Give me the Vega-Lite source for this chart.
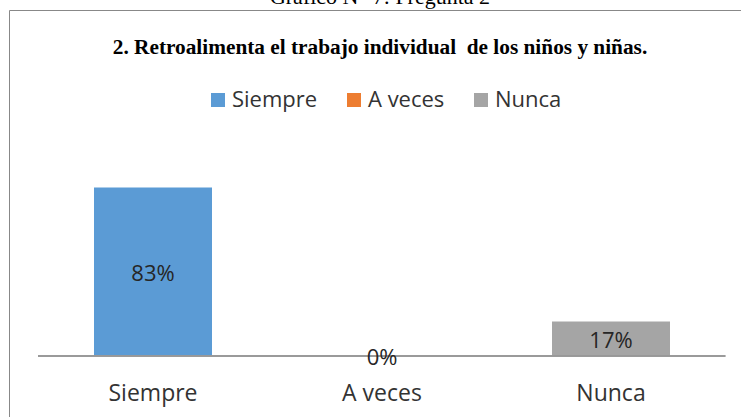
{
  "$schema": "https://vega.github.io/schema/vega-lite/v6.json",
  "width": 738,
  "height": 413,
  "autosize": {"type": "none"},
  "padding": {"left": 9, "top": 10, "right": -6, "bottom": -6},
  "background": "white",
  "config": {"view": {"stroke": "#888888", "strokeWidth": 1}},
  "title": {
    "text": "Gráfico N° 7: Pregunta 2",
    "subtitle": "2. Retroalimenta el trabajo individual\u00a0 de los niños y niñas.",
    "anchor": "middle",
    "frame": "group",
    "orient": "top",
    "offset": -49,
    "dx": 2,
    "font": "Liberation Serif",
    "fontSize": 22,
    "fontWeight": "normal",
    "color": "black",
    "subtitleFont": "Liberation Serif",
    "subtitleFontSize": 21.3,
    "subtitleFontWeight": "bold",
    "subtitleColor": "black",
    "subtitlePadding": 28
  },
  "data": {
    "values": [
      {"respuesta": "Siempre", "porcentaje": 83, "etiqueta": "83%"},
      {"respuesta": "A veces", "porcentaje": 0, "etiqueta": "0%"},
      {"respuesta": "Nunca", "porcentaje": 17, "etiqueta": "17%"}
    ]
  },
  "layer": [
    {
      "mark": {"type": "bar"},
      "encoding": {
        "x": {
          "field": "respuesta",
          "type": "nominal",
          "sort": ["Siempre", "A veces", "Nunca"],
          "scale": {"domain": ["Siempre", "A veces", "Nunca"], "paddingInner": 0.4847, "paddingOuter": 0.3537, "align": 0.5247, "round": false},
          "axis": {
            "orient": "bottom",
            "offset": -67,
            "domain": false,
            "ticks": false,
            "grid": false,
            "title": null,
            "labelAngle": 0,
            "labelPadding": 44,
            "labelBaseline": "alphabetic",
            "labelFont": "Open Sans",
            "labelFontSize": 23,
            "labelColor": "#333333"
          }
        },
        "y": {
          "field": "porcentaje",
          "type": "quantitative",
          "scale": {"domain": [-33, 170.4], "nice": false, "zero": false},
          "axis": null
        },
        "color": {
          "field": "respuesta",
          "type": "nominal",
          "scale": {"domain": ["Siempre", "A veces", "Nunca"], "range": ["#5B9BD5", "#ED7D31", "#A5A5A5"]},
          "legend": {
            "orient": "none",
            "legendX": 198,
            "legendY": 79,
            "direction": "horizontal",
            "title": null,
            "symbolType": "square",
            "symbolSize": 196,
            "symbolStrokeWidth": 0,
            "labelFont": "Open Sans",
            "labelFontSize": 22,
            "labelColor": "#333333",
            "columnPadding": 25,
            "labelOffset": 3,
            "padding": 0,
            "labelLimit": 300
          }
        }
      }
    },
    {
      "mark": {"type": "rule", "color": "#999999", "strokeWidth": 1.5},
      "encoding": {
        "x": {"datum": "Siempre", "bandPosition": -0.4746},
        "x2": {"datum": "Nunca", "bandPosition": 1.469},
        "y": {"datum": 0, "scale": {"domain": [-33, 170.4], "nice": false, "zero": false}, "axis": null}
      }
    },
    {
      "mark": {"type": "text", "font": "Open Sans", "fontSize": 22, "color": "#262626", "baseline": "middle", "dy": 2},
      "encoding": {
        "x": {"field": "respuesta", "type": "nominal"},
        "y": {
          "field": "porcentaje",
          "type": "quantitative",
          "scale": {"domain": [-66, 340.8], "nice": false, "zero": false},
          "axis": null
        },
        "text": {"field": "etiqueta"}
      }
    }
  ],
  "resolve": {"scale": {"y": "independent"}}
}
